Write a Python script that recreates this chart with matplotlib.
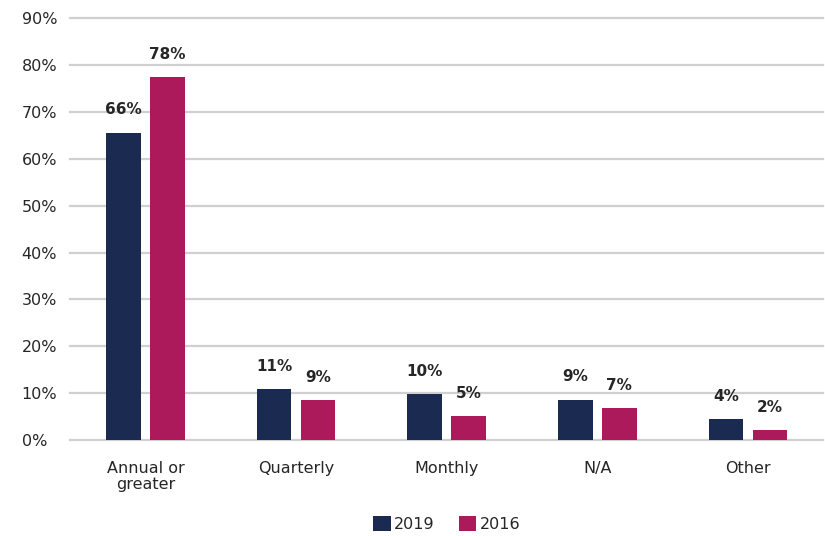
import numpy as np
import matplotlib.pyplot as plt
from matplotlib.ticker import FuncFormatter

categories = ["Annual or\ngreater", "Quarterly", "Monthly", "N/A", "Other"]
values_2019 = [65.6, 10.9, 9.8, 8.6, 4.4]
values_2016 = [77.4, 8.5, 5.1, 6.8, 2.1]
labels_2019 = ["66%", "11%", "10%", "9%", "4%"]
labels_2016 = ["78%", "9%", "5%", "7%", "2%"]

navy = "#1B2A50"
magenta = "#AD1A5C"

fig = plt.figure(figsize=(8.25, 5.36), dpi=100)
ax = fig.add_axes([0.085, 0.179, 0.913, 0.787])

x = np.arange(len(categories))
w = 0.23
off = 0.146

b1 = ax.bar(x - off, values_2019, w, color=navy, label="2019", zorder=3)
b2 = ax.bar(x + off, values_2016, w, color=magenta, label="2016", zorder=3)

# value labels above the bars
for bars, labels in [(b1, labels_2019), (b2, labels_2016)]:
    for rect, lab in zip(bars, labels):
        ax.annotate(lab, (rect.get_x() + rect.get_width() / 2, rect.get_height()),
                    xytext=(0, 11), textcoords="offset points",
                    ha="center", va="bottom", fontsize=11, weight="bold",
                    color="#262626")

ax.set_xlim(-0.5, 4.5)
ax.set_ylim(0, 90)
ax.set_yticks(np.arange(0, 91, 10))
ax.yaxis.set_major_formatter(FuncFormatter(lambda v, p: f"{v:.0f}%"))
ax.set_xticks(x)
ax.set_xticklabels(categories, fontsize=11.5, color="#262626", linespacing=1.1)
ax.tick_params(axis="y", labelsize=11.5, labelcolor="#262626", length=0, pad=35)
ax.tick_params(axis="x", length=0, pad=15)
for lab in ax.get_yticklabels():
    lab.set_horizontalalignment("left")

ax.grid(axis="y", color="#D0D0D0", linewidth=1.6, zorder=0)
# keep the top and bottom gridlines full width
for gl in ax.get_ygridlines():
    gl.set_clip_on(False)
for s in ax.spines.values():
    s.set_visible(False)

ax.legend(loc="upper center", bbox_to_anchor=(0.5, -0.145), ncol=2, frameon=False,
          fontsize=11.5, handlelength=1.1, handleheight=1.1, handletextpad=0.2,
          columnspacing=1.5, labelcolor="#262626")

fig.savefig("out.png", dpi=100)
